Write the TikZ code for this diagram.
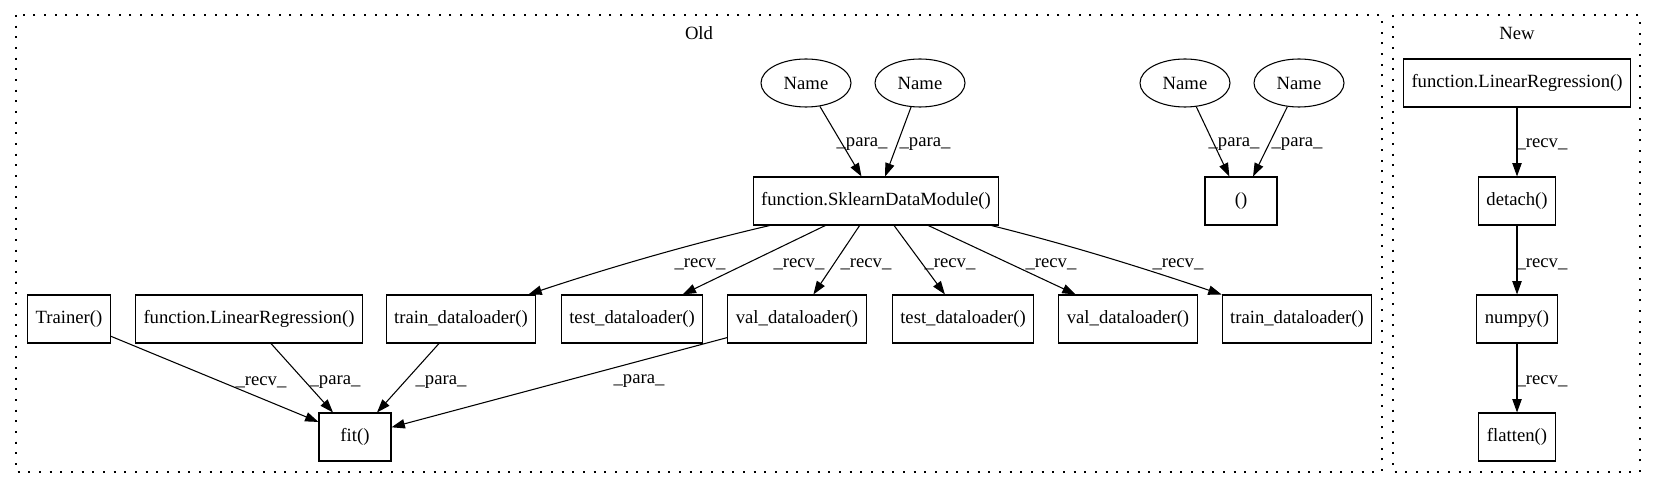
\documentclass[tikz,border=0pt]{standalone}
\usepackage{fontspec}
\setmainfont{Liberation Serif}
\usetikzlibrary{arrows.meta}
\usetikzlibrary{shapes.geometric}

\begin{document}
\begin{tikzpicture}[x=0.75pt,y=-0.75pt,
  box/.style={draw,line width=0.8pt,rectangle,minimum width=54pt,minimum height=36pt,inner xsep=6pt,font=\fontsize{14pt}{17pt}\selectfont},
  namenode/.style={draw,line width=0.8pt,ellipse,minimum width=67.5pt,minimum height=36pt,inner sep=0pt,font=\fontsize{14pt}{17pt}\selectfont},
  lbl/.style={inner sep=0pt,font=\fontsize{14pt}{17pt}\selectfont},
  arr/.style={line width=0.8pt,-{Triangle[length=10pt,width=7pt]}},
  cluster/.style={line width=1pt,dash pattern=on 1.5pt off 6.5pt}]
\useasboundingbox (0,0) rectangle (1657,488);
\draw[cluster] (16,15) rectangle (1382,472);
\draw[cluster] (1393,15) rectangle (1640,472);
\node[lbl] (c1) at (699,33) {Old};
\node[lbl] (c2) at (1517,33) {New};
\node[namenode] (v1) at (806,83) {Name};
\node[namenode] (v2) at (920,83) {Name};
\node[namenode] (v3) at (1185,83) {Name};
\node[namenode] (v4) at (1299,83) {Name};
\node[box] (v5) at (876,201) {function.SklearnDataModule()};
\node[box] (v6) at (1241,201) {()};
\node[box] (v7) at (69,319) {Trainer()};
\node[box] (v8) at (249,319) {function.LinearRegression()};
\node[box] (v9) at (461,319) {train\_dataloader()};
\node[box] (v10) at (632,319) {test\_dataloader()};
\node[box] (v11) at (797,319) {val\_dataloader()};
\node[box] (v12) at (963,319) {test\_dataloader()};
\node[box] (v13) at (1128,319) {val\_dataloader()};
\node[box] (v14) at (1297,319) {train\_dataloader()};
\node[box] (v15) at (355,437) {fit()};
\node[box] (v16) at (1517,83) {function.LinearRegression()};
\node[box] (v17) at (1517,201) {detach()};
\node[box] (v18) at (1517,319) {numpy()};
\node[box] (v19) at (1517,437) {flatten()};
\draw[arr] (v1) edge (v5);
\draw[arr] (v2) edge (v5);
\draw[arr] (v3) edge (v6);
\draw[arr] (v4) edge (v6);
\draw[arr] (v5.193) .. controls +(-78,18) and +(78,-26) .. (v9.20);
\draw[arr] (v5) edge (v10);
\draw[arr] (v5) edge (v11);
\draw[arr] (v5) edge (v12);
\draw[arr] (v5) edge (v13);
\draw[arr] (v5.-12) .. controls +(80,20) and +(-80,-27) .. (v14.162);
\draw[arr] (v7) edge (v15);
\draw[arr] (v8) edge (v15);
\draw[arr] (v9) edge (v15);
\draw[arr] (v11) edge (v15);
\draw[arr] (v16) edge (v17);
\draw[arr] (v17) edge (v18);
\draw[arr] (v18) edge (v19);
\node[lbl] (v20) at (862,144) {\_para\_};
\node[lbl] (v21) at (925,144) {\_para\_};
\node[lbl] (v22) at (1234,144) {\_para\_};
\node[lbl] (v23) at (1297,144) {\_para\_};
\node[lbl] (v24) at (700,264) {\_recv\_};
\node[lbl] (v25) at (799,264) {\_recv\_};
\node[lbl] (v26) at (866,264) {\_recv\_};
\node[lbl] (v27) at (950,264) {\_recv\_};
\node[lbl] (v28) at (1051,264) {\_recv\_};
\node[lbl] (v29) at (1178,264) {\_recv\_};
\node[lbl] (v30) at (261,382) {\_recv\_};
\node[lbl] (v31) at (335,382) {\_para\_};
\node[lbl] (v32) at (441,382) {\_para\_};
\node[lbl] (v33) at (639,381) {\_para\_};
\node[lbl] (v34) at (1542,144) {\_recv\_};
\node[lbl] (v35) at (1542,264) {\_recv\_};
\node[lbl] (v36) at (1542,381) {\_recv\_};
\end{tikzpicture}
\end{document}
